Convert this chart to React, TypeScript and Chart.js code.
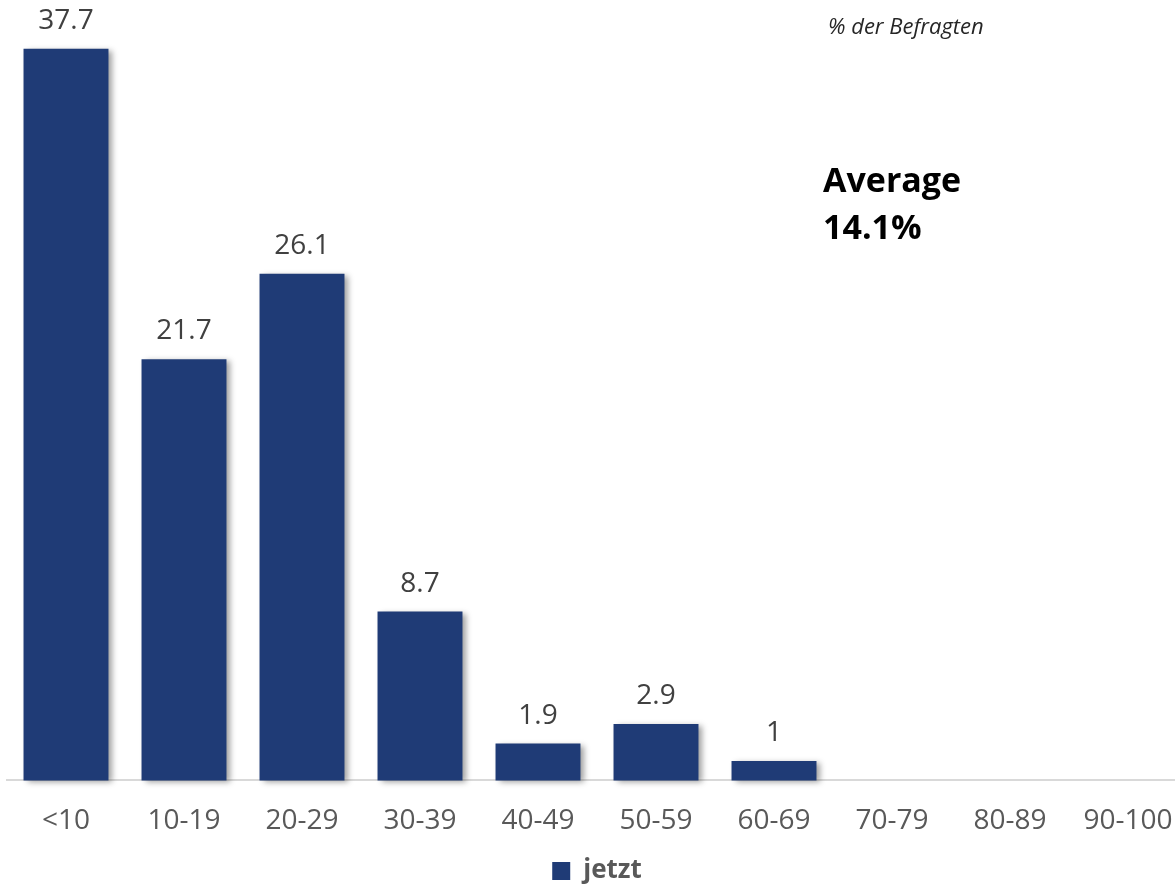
import React, { useEffect, useRef } from "react";
import { Chart, registerables, Plugin } from "chart.js";

Chart.register(...registerables);

// Share of respondents per band
const categories = ["<10", "10-19", "20-29", "30-39", "40-49", "50-59", "60-69", "70-79", "80-89", "90-100"];
const shares: (number | null)[] = [37.7, 21.7, 26.1, 8.7, 1.9, 2.9, 1, null, null, null];
const seriesName = "jetzt";
const unitNote = "% der Befragten";
const averageTitle = "Average";
const averageValue = "14.1%";
const yRange = [0, 40];

const FONT = "'Open Sans', 'Noto Sans', sans-serif";
const BAR_COLOR = "#1F3B76";

// Soft drop shadow behind the bars
const barShadow: Plugin<"bar"> = {
  id: "barShadow",
  beforeDatasetsDraw(chart) {
    const ctx = chart.ctx;
    ctx.save();
    ctx.shadowColor = "rgba(0,0,0,0.38)";
    ctx.shadowBlur = 6;
    ctx.shadowOffsetX = 4;
    ctx.shadowOffsetY = 2;
  },
  afterDatasetsDraw(chart) {
    chart.ctx.restore();
  },
};

// Value labels above each bar
const valueLabels: Plugin<"bar"> = {
  id: "valueLabels",
  afterDraw(chart) {
    const ctx = chart.ctx;
    const meta = chart.getDatasetMeta(0);
    const data = chart.data.datasets[0].data as (number | null)[];
    ctx.save();
    ctx.font = `28px ${FONT}`;
    ctx.fillStyle = "#404040";
    ctx.textAlign = "center";
    ctx.textBaseline = "alphabetic";
    meta.data.forEach((el: any, i: number) => {
      const v = data[i];
      if (v === null || v === undefined) return;
      ctx.fillText(String(v), el.x, el.y - 20);
    });
    ctx.restore();
  },
};

export default function App() {
  const canvasRef = useRef<HTMLCanvasElement | null>(null);

  useEffect(() => {
    if (!canvasRef.current) return;
    const chart = new Chart(canvasRef.current, {
      type: "bar",
      data: {
        labels: categories,
        datasets: [
          {
            label: seriesName,
            data: shares,
            backgroundColor: BAR_COLOR,
            borderWidth: 0,
            barPercentage: 0.72,
            categoryPercentage: 1,
            clip: false as any,
          },
        ],
      },
      options: {
        responsive: false,
        animation: false,
        layout: { padding: { left: 7, right: 13, top: 4, bottom: -7 } },
        plugins: {
          legend: {
            position: "bottom",
            labels: {
              boxWidth: 18,
              boxHeight: 18,
              color: "#595959",
              font: { family: FONT, size: 26, weight: "bold" },
              padding: 2,
            },
          },
          tooltip: { enabled: false },
        },
        scales: {
          x: {
            offset: true,
            grid: { display: false, drawTicks: false },
            border: { display: true, color: "#D9D9D9", width: 2 },
            ticks: {
              color: "#595959",
              font: { family: FONT, size: 28 },
              padding: 24,
              maxRotation: 0,
              autoSkip: false,
            },
            afterFit(scale: any) {
              scale.height = scale.height - 6;
            },
          },
          y: {
            display: false,
            min: yRange[0],
            max: yRange[1],
          },
        },
      },
      plugins: [barShadow, valueLabels],
    });
    return () => chart.destroy();
  }, []);

  return (
    <div
      style={{
        position: "absolute",
        left: 0,
        top: 0,
        width: 1175,
        height: 887,
        overflow: "hidden",
        background: "#fff",
        fontFamily: FONT,
      }}
    >
      <canvas ref={canvasRef} width={1200} height={887} style={{ display: "block" }} />
      <div
        style={{
          position: "absolute",
          left: 828,
          top: 14,
          fontSize: 22,
          lineHeight: "22px",
          fontStyle: "italic",
          color: "#262626",
          whiteSpace: "nowrap",
        }}
      >
        {unitNote}
      </div>
      <div
        style={{
          position: "absolute",
          left: 823,
          top: 156,
          fontSize: 34,
          lineHeight: "47px",
          fontWeight: "bold",
          color: "#000",
          whiteSpace: "nowrap",
        }}
      >
        <div>{averageTitle}</div>
        <div>{averageValue}</div>
      </div>
    </div>
  );
}
